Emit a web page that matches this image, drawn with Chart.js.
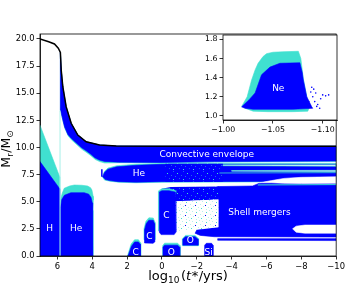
<!DOCTYPE html>
<html>
<head>
<meta charset="utf-8">
<script src="https://cdn.jsdelivr.net/npm/chart.js@4.4.0/dist/chart.umd.min.js"></script>
<style>
  html, body { margin: 0; padding: 0; background: #fff; }
  #wrap { position: relative; width: 347px; height: 288px; }
  #wrap canvas { position: absolute; left: 0; top: 0; }
</style>
</head>
<body>
<div id="wrap">
  <canvas id="main" width="347" height="288"></canvas>
  <canvas id="inset" width="347" height="288"></canvas>
</div>
<script>
var BLUE = '#0000ff', CYAN = '#40e0d0';
var FONT = 'DejaVu Sans';

// axis ticks
var xTicks = [6, 4, 2, 0, -2, -4, -6, -8, -10];
var yTicks = [0, 2.5, 5, 7.5, 10, 12.5, 15, 17.5, 20];
var insetXTicks = [-1.00, -1.05, -1.10];
var insetYTicks = [1.0, 1.2, 1.4, 1.6, 1.8];

// total stellar mass vs log10(t*/yrs)
var massX = [7, 6.5, 6.17, 5.95, 5.83, 5.78, 5.69, 5.5, 5.21, 4.83, 4.35, 3.58, 2.62, 0, -10];
var massY = [20.0, 19.75, 19.54, 19.15, 18.77, 17.1, 15.6, 13.76, 12.23, 11.15, 10.53, 10.23, 10.14, 10.12, 10.12];

// inner edge of the convective envelope
var envInnerX = [5.82, 5.7, 5.59, 5.4, 5.21, 4.9, 4.63, 4.35, 4.1, 3.85, 3.6, 3.3, 2.5, 0, -3, -10];
var envInnerY = [13.45, 12.6, 11.9, 11.2, 10.85, 10.4, 10.0, 9.7, 9.4, 9.05, 8.85, 8.72, 8.65, 8.62, 8.7, 8.75];

// convective zones, [log t, M_r]
var hCore = [[7, 0], [7, 8.7], [5.87, 6.2], [5.87, 0]];
var hCoreOvershoot = [[7, 0], [7, 12.05], [5.87, 7.3], [5.87, 0]];
var heCore = [[5.83, 0], [5.83, 4.4], [5.75, 5.2], [5.6, 5.6], [5.23, 5.83], [4.46, 5.83], [4.2, 5.7], [4.07, 5.4], [4.0, 4.9], [3.98, 4.2], [3.98, 0]];
var heCoreOvershoot = [[5.83, 0], [5.83, 5.16], [5.72, 5.8], [5.61, 6.24], [5.3, 6.45], [5.03, 6.54], [4.6, 6.52], [4.27, 6.45], [4.1, 6.3], [4.02, 6.08], [3.95, 5.5], [3.94, 5.16], [3.96, 4.2], [3.96, 0]];
var heShell = [[3.4, 7.3], [3.3, 7.7], [3.1, 8.0], [2.6, 8.22], [1.5, 8.36], [0, 8.45], [-10, 8.45], [-10, 6.9], [0, 6.85], [1.5, 6.8], [2.5, 6.85], [3.0, 6.95], [3.25, 7.05]];
var heShellOvershoot = [[3.42, 7.3], [3.3, 7.8], [3.1, 8.1], [2.6, 8.32], [1.5, 8.46], [0, 8.53], [-10, 8.53], [-10, 6.85], [0, 6.8], [1.5, 6.75], [2.5, 6.8], [3.0, 6.9], [3.3, 7.0]];
var heShellMixed = [[-0.2, 8.5], [-3.5, 8.5], [-3.5, 6.85], [-0.2, 6.85]];
var heSpike = [[3.45, 7.3], [3.45, 8.0]];
var mergers = [[-3.2, 6.4], [-5.2, 6.45], [-5.8, 6.85], [-10, 6.9], [-10, 1.75], [-3.0, 1.78], [-2.2, 1.9], [-1.9, 2.1], [-2.0, 2.4], [-3.2, 2.65], [-3.25, 4.0]];
var cShellBand = [[0.15, 5.9], [0.0, 6.2], [-0.5, 6.35], [-3.25, 6.4], [-3.25, 5.2], [-0.7, 5.0], [0.15, 5.2]];
var cShellSparse = [[-0.7, 5.05], [-3.25, 5.2], [-3.25, 2.65], [-2.0, 2.45], [-0.8, 2.3]];
var cCore = [[0.15, 2.2], [0.15, 5.9], [0.0, 6.02], [-0.4, 6.02], [-0.75, 5.9], [-0.8, 2.2], [-0.7, 1.97], [0.05, 1.97]];
var cCoreOvershoot = [[0.2, 2.3], [0.2, 6.0], [0.0, 6.2], [-0.4, 6.2], [-0.75, 6.05], [-0.8, 5.8]];
var cShell2 = [[1.0, 1.2], [1.0, 2.4], [0.9, 3.0], [0.75, 3.3], [0.5, 3.3], [0.43, 3.0], [0.42, 1.3], [0.5, 1.17]];
var cShell2Overshoot = [[1.03, 1.5], [1.03, 2.5], [0.92, 3.2], [0.75, 3.52], [0.5, 3.5], [0.4, 3.1], [0.4, 1.5]];
var cShell3 = [[1.95, 0], [1.75, 0.9], [1.57, 1.3], [1.35, 1.3], [1.25, 1.1], [1.24, 0]];
var cShell3Overshoot = [[1.98, 0], [1.77, 1.1], [1.57, 1.5], [1.35, 1.5], [1.22, 1.2], [1.22, 0]];
var oCore = [[-0.06, 0], [-0.06, 0.8], [-0.15, 1.0], [-0.9, 1.0], [-1.02, 0.8], [-1.02, 0]];
var oCoreOvershoot = [[-0.04, 0], [-0.04, 0.95], [-0.15, 1.18], [-0.9, 1.18], [-1.04, 0.95], [-1.04, 0]];
var oShell = [[-1.2, 1.0], [-1.2, 1.55], [-1.35, 1.78], [-1.9, 1.78], [-2.07, 1.55], [-2.07, 1.0]];
var oShellOvershoot = [[-1.17, 0.95], [-1.17, 1.6], [-1.35, 1.9], [-1.9, 1.9], [-2.1, 1.6], [-2.1, 0.95]];
var siCore = [[-2.45, 0], [-2.45, 1.0], [-2.55, 1.17], [-2.85, 1.17], [-2.93, 1.0], [-2.93, 0]];
var bottomStrip = [[-3.2, 1.6], [-10, 1.6], [-10, 1.42], [-3.2, 1.45]];
var gapCrescent = [[-5.6, 6.75], [-6.3, 6.95], [-7, 7.15], [-8, 7.25], [-10, 7.3], [-10, 6.7], [-8, 6.68], [-7, 6.7], [-6.3, 6.75]];
var gapUpper = [[-3.5, 8.4], [-10, 8.4], [-10, 8.27], [-3.5, 8.32]];
var gapLower = [[-4.0, 7.88], [-10, 7.9], [-10, 7.77], [-4.0, 7.82]];
var gapBlob = [[-10, 2.85], [-8.2, 2.85], [-7.7, 2.75], [-7.5, 2.5], [-7.7, 2.2], [-8.2, 2.1], [-10, 2.1]];
var cyanLine1 = [[-5.5, 6.55], [-10, 6.58]];
var cyanLine2 = [[-3.3, 7.65], [-10, 7.68]];
var separator = [[5.85, 0], [5.85, 13.4]];

// zone labels
var labelText = ['H', 'He', 'He', 'C', 'C', 'C', 'O', 'O', 'Si', 'Convective envelope', 'Shell mergers'];
var labelX = [6.45, 4.92, 1.32, -0.25, 0.72, 1.51, -0.54, -1.62, -2.68, -2.57, -5.6];
var labelY = [2.5, 2.5, 7.55, 3.7, 1.75, 0.35, 0.35, 1.4, 0.32, 9.3, 4.0];

// inset: Ne burning zone
var neOvershoot = [[-1.0185, 1.10], [-1.024, 1.2], [-1.0285, 1.376], [-1.032, 1.48], [-1.035, 1.55], [-1.04, 1.62], [-1.0435, 1.65], [-1.05, 1.665], [-1.06, 1.67], [-1.0755, 1.675], [-1.078, 1.6], [-1.0805, 1.39], [-1.084, 1.2], [-1.087, 1.10], [-1.085, 1.05], [-1.07, 1.045], [-1.045, 1.045], [-1.03, 1.05], [-1.022, 1.08]];
var neCore = [[-1.0185, 1.095], [-1.026, 1.17], [-1.032, 1.24], [-1.0385, 1.43], [-1.047, 1.51], [-1.057, 1.55], [-1.077, 1.555], [-1.0795, 1.45], [-1.0805, 1.376], [-1.084, 1.2], [-1.089, 1.095], [-1.09, 1.08], [-1.07, 1.07], [-1.03, 1.07], [-1.022, 1.08]];
var neSpeckX = [-1.088, -1.09, -1.092, -1.095, -1.098, -1.1, -1.103, -1.106, -1.091, -1.089, -1.094, -1.097, -1.086, -1.093];
var neSpeckY = [1.25, 1.2, 1.15, 1.12, 1.18, 1.22, 1.21, 1.22, 1.28, 1.3, 1.1, 1.08, 1.15, 1.24];

// texture for the noisy mixing zones
function makePattern(rows) {
  var c = document.createElement('canvas');
  c.width = rows[0].length; c.height = rows.length;
  var g = c.getContext('2d');
  var map = { B: BLUE, C: CYAN, W: '#ffffff', L: '#b8f2ec', M: '#2060ec' };
  rows.forEach(function (r, j) {
    for (var i = 0; i < r.length; i++) { g.fillStyle = map[r[i]]; g.fillRect(i, j, 1, 1); }
  });
  return g.createPattern(c, 'repeat');
}
var densePat = makePattern(['BBBBBBBBBB', 'BBBMBBBBBB', 'BBBBBBBBBB', 'BBBBBBBCBB', 'BBBBBBBBBB', 'BMBBBBBBBB', 'BBBBBMBBBB', 'BBBBBBBBBB', 'BBBBBBBBBM', 'BBBCBBBBBB']);
var sparsePat = makePattern(['WWWWWWWWWL', 'WWLWWWWWWW', 'WWWWWWCWWW', 'WWWWWWWWWW', 'LWWWWWWWWW', 'WWWWWBWWWW', 'WWWLWWWWWW', 'WWWWWWWWLW', 'WCWWWWWWWW', 'WWWWWWLWWW']);

function pts(pairs) { return pairs.map(function (p) { return { x: p[0], y: p[1] }; }); }
function area(pairs, color, edge) {
  return {
    data: pts(pairs.concat([pairs[0]])), showLine: true, fill: 'shape',
    backgroundColor: color, borderColor: edge === undefined ? color : edge,
    borderWidth: 0.6, pointRadius: 0, tension: 0
  };
}
function line(pairs, color, w) {
  return { data: pts(pairs), showLine: true, fill: false, borderColor: color, borderWidth: w, pointRadius: 0, tension: 0 };
}
function stack(layers) {
  // first layer at the bottom
  layers.forEach(function (d, i) { d.order = layers.length - i; });
  return layers;
}

// envelope polygon from the mass line and the inner edge
var envTop = [], envelope, envelopeOvershoot;
massX.forEach(function (x, i) { if (x <= 5.83) envTop.push([x, massY[i]]); });
envelope = envTop.concat(envInnerX.map(function (x, i) { return [x, envInnerY[i]]; }).reverse());
envelopeOvershoot = envTop.concat(envInnerX.map(function (x, i) { return [x - 0.02, envInnerY[i] - (x > 3 ? 0.15 : 0.05)]; }).reverse());

var mainSets = stack([
  area(envelopeOvershoot, CYAN),
  area(envelope, BLUE),
  area(hCoreOvershoot, CYAN),
  area(hCore, BLUE),
  area(heCoreOvershoot, CYAN),
  area(heCore, BLUE),
  line(separator, '#a8f0e8', 1),
  area(heShellOvershoot, CYAN),
  area(heShell, BLUE),
  line(heSpike, BLUE, 1.5),
  area(heShellMixed, densePat, 'rgba(0,0,0,0)'),
  area(mergers, BLUE),
  area(cShellBand, densePat, 'rgba(0,0,0,0)'),
  area(cShellSparse, sparsePat, 'rgba(0,0,0,0)'),
  area(gapCrescent, '#ffffff'),
  area(gapUpper, '#ffffff', CYAN),
  area(gapLower, '#ffffff', CYAN),
  area(gapBlob, '#ffffff'),
  line(cyanLine1, CYAN, 1),
  line(cyanLine2, CYAN, 0.8),
  area(bottomStrip, BLUE),
  area(cCoreOvershoot, CYAN),
  area(cCore, BLUE),
  area(cShell2Overshoot, CYAN),
  area(cShell2, BLUE),
  area(cShell3Overshoot, CYAN),
  area(cShell3, BLUE),
  area(oCoreOvershoot, CYAN),
  area(oCore, BLUE),
  area(oShellOvershoot, CYAN),
  area(oShell, BLUE),
  area(siCore, BLUE),
  line(massX.map(function (x, i) { return [x, massY[i]]; }), '#000000', 1.5)
]);

function minus(v, digits) {
  var s = Math.abs(v).toFixed(digits);
  return (v < 0 ? '\u2212' : '') + s;
}

function axisCfg(opts) {
  return Object.assign({
    type: 'linear',
    grid: { drawOnChartArea: false, drawTicks: true, tickLength: 3.5, color: '#000', lineWidth: 0.8 },
    border: { display: true, color: '#000', width: 0.8 }
  }, opts);
}

var framePlugin = {
  id: 'frame',
  afterDraw: function (chart) {
    var a = chart.chartArea, ctx = chart.ctx;
    ctx.save();
    ctx.strokeStyle = '#000'; ctx.lineWidth = 0.8;
    ctx.strokeRect(a.left, a.top, a.right - a.left, a.bottom - a.top);
    ctx.restore();
  }
};

function drawParts(ctx, parts, x, y) {
  parts.forEach(function (p) {
    ctx.font = (p.italic ? 'italic ' : '') + p.size + 'px ' + FONT;
    ctx.fillText(p.t, x, y + (p.dy || 0));
    x += ctx.measureText(p.t).width + (p.gap || 0);
  });
}
function partsWidth(ctx, parts) {
  var w = 0;
  parts.forEach(function (p) {
    ctx.font = (p.italic ? 'italic ' : '') + p.size + 'px ' + FONT;
    w += ctx.measureText(p.t).width + (p.gap || 0);
  });
  return w;
}

var mainLabels = {
  id: 'mainLabels',
  afterDatasetsDraw: function (chart) {
    var ctx = chart.ctx, sx = chart.scales.x, sy = chart.scales.y;
    ctx.save();
    ctx.fillStyle = '#ffffff';
    ctx.font = '9px ' + FONT;
    ctx.textAlign = 'center'; ctx.textBaseline = 'middle';
    labelText.forEach(function (t, i) {
      ctx.fillText(t, sx.getPixelForValue(labelX[i]), sy.getPixelForValue(labelY[i]));
    });
    ctx.restore();
  },
  afterDraw: function (chart) {
    var ctx = chart.ctx, a = chart.chartArea;
    ctx.save();
    ctx.fillStyle = '#000'; ctx.textAlign = 'left'; ctx.textBaseline = 'alphabetic';
    var xl = [
      { t: 'log', size: 13 }, { t: '10', size: 9, dy: 3, gap: 1.5 }, { t: '(', size: 13 },
      { t: 't', size: 13, italic: true, gap: 0.5 }, { t: '*', size: 13, gap: 0.5 }, { t: '/yrs)', size: 13 }
    ];
    var w = partsWidth(ctx, xl);
    drawParts(ctx, xl, (a.left + a.right) / 2 - w / 2, 280);
    var yl = [
      { t: 'M', size: 12.5 }, { t: 'r', size: 8.8, dy: 3, gap: 0.5 }, { t: '/M', size: 12.5 }, { t: '\u2299', size: 8.8, dy: 3 }
    ];
    var wy = partsWidth(ctx, yl);
    ctx.translate(9.5, 149);
    ctx.rotate(-Math.PI / 2);
    drawParts(ctx, yl, -wy / 2, 0);
    ctx.restore();
  }
};

function tickCfg(size, fmt) {
  return { color: '#000', font: { family: FONT, size: size }, padding: 2, maxRotation: 0, autoSkip: false, callback: fmt };
}

new Chart(document.getElementById('main'), {
  type: 'scatter',
  data: { datasets: mainSets },
  options: {
    responsive: false, animation: false, devicePixelRatio: 1, events: [],
    layout: { padding: { top: 34, right: 10, left: 0, bottom: 0 } },
    plugins: { legend: { display: false }, tooltip: { enabled: false } },
    scales: {
      x: axisCfg({
        min: -10, max: 7, reverse: true,
        afterBuildTicks: function (s) { s.ticks = xTicks.map(function (v) { return { value: v }; }); },
        afterFit: function (s) { s.height = 32; },
        ticks: tickCfg(8.4, function (v) { return minus(v, 0); })
      }),
      y: axisCfg({
        min: 0, max: 20.46,
        afterBuildTicks: function (s) { s.ticks = yTicks.map(function (v) { return { value: v }; }); },
        afterFit: function (s) { s.width = 40; },
        ticks: tickCfg(8.4, function (v) { return v.toFixed(1); })
      })
    }
  },
  plugins: [framePlugin, mainLabels]
});

// ---- inset ----
var insetSets = stack([
  area(neOvershoot, CYAN),
  area(neCore, BLUE),
  { data: neSpeckX.map(function (x, i) { return { x: x, y: neSpeckY[i] }; }), showLine: false,
    pointRadius: 0.8, pointBorderWidth: 0, backgroundColor: BLUE, borderColor: BLUE }
]);

var insetBg = {
  id: 'insetBg',
  beforeDatasetsDraw: function (chart) {
    var a = chart.chartArea, ctx = chart.ctx;
    ctx.save(); ctx.fillStyle = '#fff';
    ctx.fillRect(a.left, a.top, a.right - a.left, a.bottom - a.top);
    ctx.restore();
  },
  afterDatasetsDraw: function (chart) {
    var ctx = chart.ctx;
    ctx.save();
    ctx.fillStyle = '#fff'; ctx.font = '9px ' + FONT;
    ctx.textAlign = 'center'; ctx.textBaseline = 'middle';
    ctx.fillText('Ne', chart.scales.x.getPixelForValue(-1.0553), chart.scales.y.getPixelForValue(1.28));
    ctx.restore();
  }
};

new Chart(document.getElementById('inset'), {
  type: 'scatter',
  data: { datasets: insetSets },
  options: {
    responsive: false, animation: false, devicePixelRatio: 1, events: [],
    layout: { padding: { top: 35, right: 10, left: 0, bottom: 0 } },
    plugins: { legend: { display: false }, tooltip: { enabled: false } },
    scales: {
      x: axisCfg({
        min: -1.1144, max: -0.9997, reverse: true,
        afterBuildTicks: function (s) { s.ticks = insetXTicks.map(function (v) { return { value: v }; }); },
        afterFit: function (s) { s.height = 168; },
        ticks: tickCfg(7.8, function (v) { return minus(v, 2); })
      }),
      y: axisCfg({
        min: 0.958, max: 1.845,
        afterBuildTicks: function (s) { s.ticks = insetYTicks.map(function (v) { return { value: v }; }); },
        afterFit: function (s) { s.width = 223; },
        ticks: tickCfg(7.8, function (v) { return v.toFixed(1); })
      })
    }
  },
  plugins: [insetBg, framePlugin]
});
</script>
</body>
</html>
